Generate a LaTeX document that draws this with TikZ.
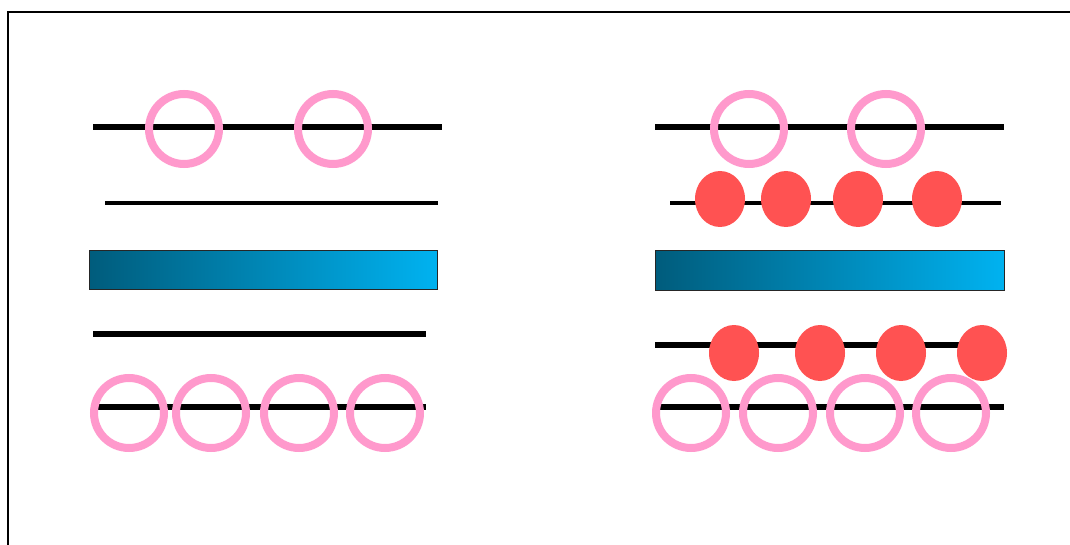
\documentclass[tikz,border=0pt]{standalone}
\usetikzlibrary{shapes.geometric}
\definecolor{pinkring}{RGB}{255,153,204}
\definecolor{redbead}{RGB}{255,82,82}
\definecolor{gradL}{RGB}{0,92,124}
\definecolor{gradR}{RGB}{0,178,240}
\tikzset{
  frameline/.style={line width=2pt, black},
  thickrail/.style={line width=6pt, black},
  thinrail/.style={line width=4.5pt, black},
  ring/.style={circle, draw=pinkring, line width=8pt, minimum size=70pt, inner sep=0pt},
  bead/.style={ellipse, fill=redbead, minimum width=50pt, minimum height=56pt, inner sep=0pt},
  gradbar/.style={draw=black!85, line width=1pt, left color=gradL, right color=gradR}
}
\begin{document}
\begin{tikzpicture}[x=1pt,y=-1pt]
\useasboundingbox (0,0) rectangle (1070,545);
\fill[white] (0,0) rectangle (1070,545);
% frame
\coordinate (fbl) at (8,548);
\coordinate (ftl) at (8,12);
\coordinate (ftr) at (1072,12);
\draw[frameline] (fbl) -- (ftl) -- (ftr);

% ===== left panel =====
\coordinate (L1a) at (93,127);  \coordinate (L1b) at (442,127);
\coordinate (L2a) at (105,203); \coordinate (L2b) at (438,203);
\coordinate (L3a) at (93,334);  \coordinate (L3b) at (426,334);
\coordinate (L4a) at (97,407);  \coordinate (L4b) at (426,407);
\draw[thickrail] (L1a) -- (L1b);
\draw[thinrail] (L2a) -- (L2b);
\draw[thickrail] (L3a) -- (L3b);
\draw[thickrail] (L4a) -- (L4b);
\draw[gradbar] (89,251) rectangle (437,289);
\node[ring] (lt1) at (184,129) {};
\node[ring] (lt2) at (333,129) {};
\node[ring] (lb1) at (129,413) {};
\node[ring] (lb2) at (211,413) {};
\node[ring] (lb3) at (299,413) {};
\node[ring] (lb4) at (385,413) {};

% ===== right panel =====
\coordinate (R1a) at (655,127);  \coordinate (R1b) at (1004,127);
\coordinate (R2a) at (670,203);  \coordinate (R2b) at (1001,203);
\coordinate (R3a) at (655,345);  \coordinate (R3b) at (1004,345);
\coordinate (R4a) at (659,407);  \coordinate (R4b) at (1004,407);
\draw[thickrail] (R1a) -- (R1b);
\draw[thinrail] (R2a) -- (R2b);
\draw[thickrail] (R3a) -- (R3b);
\draw[thickrail] (R4a) -- (R4b);
\draw[gradbar] (655,251) rectangle (1004,290);
\node[ring] (rt1) at (749,129) {};
\node[ring] (rt2) at (886,129) {};
\node[bead] (ru1) at (720,199) {};
\node[bead] (ru2) at (786,199) {};
\node[bead] (ru3) at (858,199) {};
\node[bead] (ru4) at (937,199) {};
\node[bead] (rd1) at (734,353) {};
\node[bead] (rd2) at (820,353) {};
\node[bead] (rd3) at (901,353) {};
\node[bead] (rd4) at (982,353) {};
\node[ring] (rb1) at (691,413) {};
\node[ring] (rb2) at (778,413) {};
\node[ring] (rb3) at (865,413) {};
\node[ring] (rb4) at (951,413) {};
\end{tikzpicture}
\end{document}
